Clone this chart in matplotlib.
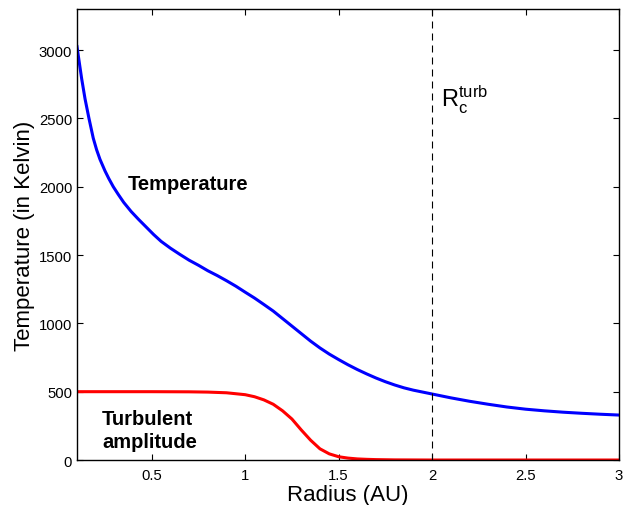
"""Temperature and turbulent amplitude profiles against radius."""
import numpy as np
import matplotlib
matplotlib.use('Agg')
import matplotlib.pyplot as plt

plt.rcParams['font.family'] = ['Liberation Sans', 'DejaVu Sans']
plt.rcParams['mathtext.fontset'] = 'custom'
plt.rcParams['mathtext.rm'] = 'Liberation Sans'

# radius (AU) and temperature (K)
radius_temp = [0.10, 0.11, 0.125, 0.143, 0.164, 0.187, 0.205, 0.223, 0.25, 0.27,
               0.294, 0.32, 0.35, 0.39, 0.43, 0.47, 0.51, 0.55, 0.60, 0.65,
               0.70, 0.75, 0.80, 0.85, 0.90, 0.95, 1.00, 1.05, 1.10, 1.15,
               1.20, 1.25, 1.30, 1.35, 1.40, 1.45, 1.50, 1.55, 1.60, 1.65,
               1.70, 1.75, 1.80, 1.85, 1.90, 1.95, 2.00, 2.10, 2.20, 2.30,
               2.40, 2.50, 2.60, 2.70, 2.80, 2.90, 3.00]
temperature = [3025, 2930, 2790, 2643, 2500, 2355, 2270, 2200, 2115, 2060,
               2000, 1945, 1885, 1818, 1760, 1705, 1650, 1600, 1550, 1505,
               1462, 1425, 1385, 1350, 1312, 1272, 1228, 1185, 1138, 1090,
               1035, 980, 925, 870, 820, 775, 735, 697, 662, 630,
               600, 573, 549, 528, 511, 497, 483, 455, 430, 408,
               388, 372, 360, 350, 342, 335, 329]

# turbulent amplitude
radius_turb = [0.10, 0.30, 0.50, 0.70, 0.80, 0.90, 1.00, 1.05, 1.10, 1.15,
               1.20, 1.25, 1.30, 1.35, 1.40, 1.45, 1.50, 1.55, 1.60, 1.65,
               1.70, 1.80, 1.90, 2.00, 2.50, 3.00]
turb_amp = [500, 500, 500, 499, 497, 492, 478, 463, 440, 408,
            360, 300, 220, 145, 82, 45, 24, 14, 8, 5,
            3, 1, 0.5, 0, 0, 0]

r_c_turb = 2.0

fig = plt.figure(figsize=(6.27, 5.06), dpi=100)
ax = fig.add_axes([0.1228, 0.0889, 0.8644, 0.8913])

ax.plot(radius_temp, temperature, color=(0, 0, 1), lw=2.2)
ax.plot(radius_turb, turb_amp, color=(1, 0, 0), lw=2.2)
ax.axvline(r_c_turb, color='k', lw=0.8, dashes=(6.3, 4.5))

ax.text(0.369, 1984, 'Temperature', fontsize=14.5, fontweight='bold', va='baseline')
ax.text(0.235, 263, 'Turbulent', fontsize=14.5, fontweight='bold', va='baseline')
ax.text(0.235, 97, 'amplitude', fontsize=14.5, fontweight='bold', va='baseline')
ax.text(2.05, 2594, r'$\mathrm{R}_\mathrm{c}^\mathrm{turb}$', fontsize=17)

ax.set_xlim(0.1, 3)
ax.set_ylim(0, 3300)
ax.set_xticks([0.5, 1, 1.5, 2, 2.5, 3])
ax.set_xticklabels(['0.5', '1', '1.5', '2', '2.5', '3'])
ax.set_yticks(np.arange(0, 3001, 500))
ax.tick_params(direction='in', top=True, right=True, length=4, width=0.8,
               labelsize=10.7)
ax.tick_params(axis='x', pad=6)
for sp in ax.spines.values():
    sp.set_linewidth(1.0)

ax.set_xlabel('Radius (AU)', fontsize=16, labelpad=1)
ax.set_ylabel('Temperature (in Kelvin)', fontsize=16, labelpad=3)

plt.savefig('out.png', dpi=100)
